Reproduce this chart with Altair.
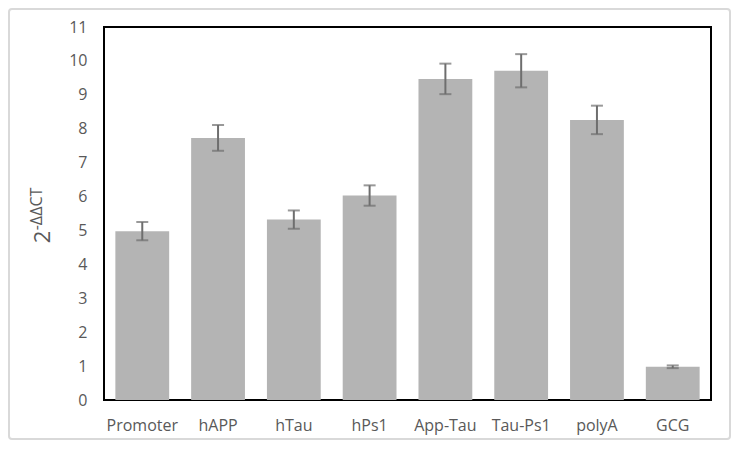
import altair as alt
import pandas as pd

categories = ["Promoter", "hAPP", "hTau", "hPs1", "App-Tau", "Tau-Ps1", "polyA", "GCG"]
values = [4.98, 7.73, 5.32, 6.03, 9.47, 9.71, 8.26, 0.98]
errors = [0.27, 0.38, 0.27, 0.30, 0.45, 0.49, 0.42, 0.04]
y_ticks = list(range(0, 12))

df = pd.DataFrame({"cat": categories, "val": values, "err": errors})

W, H = 607, 373
FONT = "Open Sans"
TXT = "#595959"

base = alt.Chart(df).transform_calculate(
    lo="datum.val - datum.err", hi="datum.val + datum.err"
)

x_scale = alt.Scale(paddingInner=0.29, paddingOuter=0.15)
y_scale = alt.Scale(domain=[0, 11], nice=False)
x_axis = alt.Axis(labelAngle=0, labelPadding=17, labelFontSize=16)
y_axis = alt.Axis(values=y_ticks, labelOverlap=False, labelPadding=17, labelFontSize=16)

def X():
    return alt.X("cat:N", sort=categories, title=None, scale=x_scale, axis=x_axis)

bars = base.mark_bar(color="#b4b4b4").encode(
    x=X(), y=alt.Y("val:Q", scale=y_scale, title=None, axis=y_axis),
)
rule = base.mark_rule(color="#6e6e6e", strokeWidth=2).encode(
    x=X(), y=alt.Y("lo:Q", scale=y_scale, title=None, axis=y_axis), y2="hi:Q"
)
cap_lo = base.mark_tick(color="#6e6e6e", size=12, thickness=2).encode(
    x=X(), y=alt.Y("lo:Q", scale=y_scale, title=None, axis=y_axis)
)
cap_hi = base.mark_tick(color="#6e6e6e", size=12, thickness=2).encode(
    x=X(), y=alt.Y("hi:Q", scale=y_scale, title=None, axis=y_axis)
)

t2 = alt.Chart(pd.DataFrame({"t": ["2"]})).mark_text(
    angle=270, font=FONT, fontSize=22, color=TXT, align="center", baseline="middle"
).encode(x=alt.value(-61), y=alt.value(210), text="t:N")
tsup = alt.Chart(pd.DataFrame({"t": ["-ΔΔCT"]})).mark_text(
    angle=270, font=FONT, fontSize=16, color=TXT, align="center", baseline="middle"
).encode(x=alt.value(-67), y=alt.value(182), text="t:N")

border = alt.Chart(pd.DataFrame({"a": [0]})).mark_rect(
    fill=None, stroke="#d9d9d9", strokeWidth=2, cornerRadius=3
).encode(x=alt.value(-95), x2=alt.value(626), y=alt.value(-18), y2=alt.value(412))

chart = alt.layer(border, bars, rule, cap_lo, cap_hi, t2, tsup).properties(
    width=W, height=H,
    autosize=alt.AutoSizeParams(type="none"),
    padding={"left": 96, "top": 19, "right": 20, "bottom": 40},
).configure(
    background="white", view=alt.ViewConfig(stroke="black", strokeWidth=2)
).configure_axis(
    grid=False, domain=False, ticks=False, labelFont=FONT, labelColor=TXT,
)

chart.save("out.html", embed_options={"renderer": "svg", "actions": False})
